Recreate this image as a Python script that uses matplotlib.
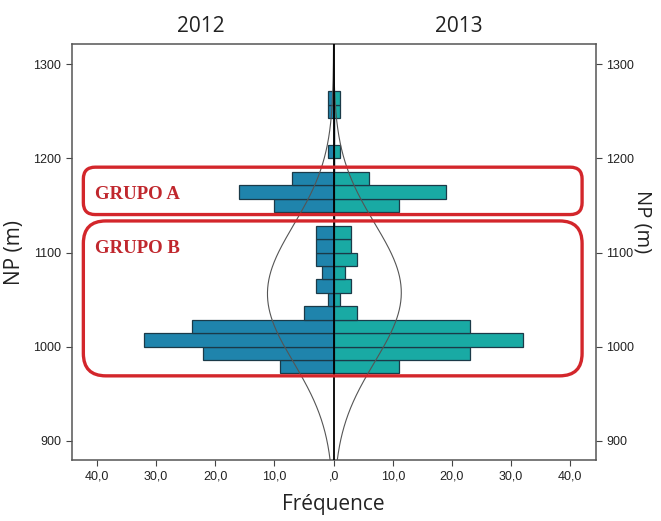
import numpy as np
import matplotlib
matplotlib.use("Agg")
import matplotlib.pyplot as plt
from matplotlib.patches import FancyBboxPatch

# histogram of NP (m), bins of 100/7 m starting two bins below 1000
bin_width = 100 / 7
bin_low = 1000 - 2 * bin_width
counts_2012 = [9, 22, 32, 24, 5, 1, 3, 2, 3, 3, 3, 0, 10, 16, 7, 0, 1, 0, 0, 1, 1]
counts_2013 = [11, 23, 32, 23, 4, 1, 3, 2, 4, 3, 3, 0, 11, 19, 6, 0, 1, 0, 0, 1, 1]
years = ["2012", "2013"]

# groups marked on the chart: (label, first bin, last bin)
group_names = ["GRUPO A", "GRUPO B"]
group_first = [12, 0]
group_last = [14, 10]

yticks = [900, 1000, 1100, 1200, 1300]
xticks = [-40, -30, -20, -10, 0, 10, 20, 30, 40]

c_left = "#1f84ac"
c_right = "#19aaa4"
c_edge = "#1b3a48"
c_red = "#d3262b"

edges = bin_low + bin_width * np.arange(len(counts_2012) + 1)
centers = edges[:-1] + bin_width / 2

fig = plt.figure(figsize=(6.61, 5.21), dpi=100)
ax = fig.add_axes([0.1082, 0.1171, 0.7930, 0.7984])
ylim = (879.5, 1321.6)
xlim = (-44.3, 44.3)

ax.barh(centers, -np.array(counts_2012), height=bin_width, color=c_left,
        edgecolor=c_edge, linewidth=0.9, zorder=2)
ax.barh(centers, counts_2013, height=bin_width, color=c_right,
        edgecolor=c_edge, linewidth=0.9, zorder=2)

# normal curves fitted to each year
yy = np.linspace(ylim[0], ylim[1], 400)
for cnt, sign in [(counts_2012, -1), (counts_2013, 1)]:
    cnt = np.array(cnt, dtype=float)
    n = cnt.sum()
    mu = (cnt * centers).sum() / n
    sd = np.sqrt((cnt * (centers - mu) ** 2).sum() / n)
    dens = n * bin_width * np.exp(-0.5 * ((yy - mu) / sd) ** 2) / (sd * np.sqrt(2 * np.pi))
    ax.plot(sign * dens, yy, color="#555555", lw=0.8, zorder=3)

ax.axvline(0, color="black", lw=1.3, zorder=4)

ax.set_xlim(*xlim)
ax.set_ylim(*ylim)
ax.set_yticks(yticks)
ax.set_xticks(xticks)
ax.set_xticklabels([("%.1f" % abs(v)).replace(".", ",").lstrip("0") if v == 0
                    else ("%.1f" % abs(v)).replace(".", ",") for v in xticks])
ax.tick_params(axis="both", labelsize=9, color="#444444", length=4,
               labelcolor="#222222", right=True, labelright=True)
for lab in ax.get_xticklabels() + ax.get_yticklabels():
    lab.set_family("Liberation Sans")
for s in ax.spines.values():
    s.set_color("#555555")
    s.set_linewidth(1.1)

# rounded red boxes around the groups
ax_w = fig.get_size_inches()[0] * fig.dpi * 0.7930
ax_h = fig.get_size_inches()[1] * fig.dpi * 0.7984
aspect = (ax_w / (xlim[1] - xlim[0])) / (ax_h / (ylim[1] - ylim[0]))
radius = [2.0, 3.8]
for name, f, l, r in zip(group_names, group_first, group_last, radius):
    y0 = edges[f] - 2.5
    y1 = edges[l + 1] + 5
    box = FancyBboxPatch((-42.3, y0), 84.3, y1 - y0,
                         boxstyle="round,pad=0,rounding_size=%f" % r,
                         mutation_aspect=aspect, fill=False,
                         edgecolor=c_red, lw=2.4, zorder=5)
    ax.add_patch(box)
    ax.text(-40.3, y1 - 29.5, name, color="#c0272d",
            fontsize=13.5, fontweight="bold", family="Liberation Serif",
            va="center", ha="left", zorder=6)

ax.text(-22.5, 1.043, years[0], transform=ax.get_xaxis_transform(),
        ha="center", va="center", fontsize=15, family="Open Sans", color="#222222")
ax.text(21.2, 1.043, years[1], transform=ax.get_xaxis_transform(),
        ha="center", va="center", fontsize=15, family="Open Sans", color="#222222")

ax.set_xlabel("Fréquence", fontsize=15, family="Open Sans", color="#222222", labelpad=8)
ax.set_ylabel("NP (m)", fontsize=15, family="Open Sans", color="#222222", labelpad=6)
fig.text(643 / 661, 1 - 222 / 521, "NP (m)", rotation=270, ha="center", va="center",
         fontsize=14.5, family="Open Sans", color="#222222")

fig.savefig("out.png", dpi=100)
